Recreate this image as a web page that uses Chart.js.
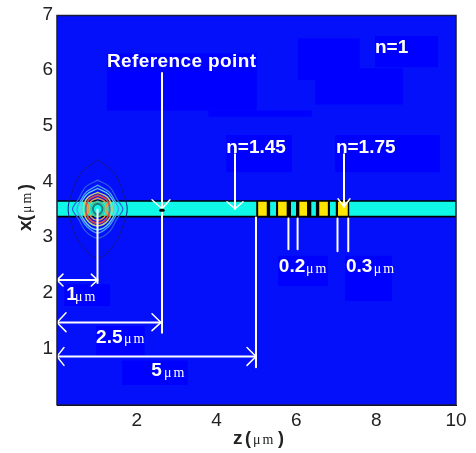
<!DOCTYPE html>
<html><head><meta charset="utf-8">
<style>html,body{margin:0;padding:0;background:#fff}canvas{display:block}</style>
<script src="https://cdn.jsdelivr.net/npm/chart.js@4"></script>
</head><body><canvas id="c" width="476" height="453"></canvas>
<script>
const zTicks = [2, 4, 6, 8, 10];
const xTicks = [1, 2, 3, 4, 5, 6, 7];
const plotBox = [0, 10, 0, 7];
// [z0, z1, x0, x1] rectangles in micrometres
const artefactPatches = [
  [1.25,5.01,5.29,6.32],[3.79,6.39,5.18,5.29],[6.04,7.59,5.84,6.59],[6.47,8.67,5.40,6.05],
  [7.97,9.55,6.07,6.63],[4.24,5.89,4.18,4.85],[6.97,9.60,4.18,4.85],[5.54,6.79,2.14,2.68],
  [7.22,8.40,1.87,2.68],[0.18,1.33,1.78,2.17],[0.98,2.20,0.89,1.42],[1.63,3.28,0.36,0.80]
];
const guideOuter = [0, 10, 3.37, 3.68];
const guideCore = [0, 10, 3.40, 3.652];
const gratingOuter = [4.99, 7.33, 3.37, 3.68];
const gratingHigh = [[5.04,5.26],[5.54,5.76],[6.07,6.27],[6.57,6.79],[7.04,7.29]];
const gratingLow = [[5.34,5.49],[5.86,5.99],[6.37,6.49],[6.84,6.99]];
const contourColors = ['#15158f','#2a5fe0','#45a0f0','#62d0ec','#c4d070','#d84848','#e09a40','#58c088','#1c7c80'];
const contourWidths = [1,1.2,1.3,1.4,1.5,1.8,1.5,1.5,2];
const contours = [
  [[1.02,4.41],[1.45,4.15],[1.70,3.72],[1.76,3.52],[1.70,3.32],[1.45,2.90],[1.02,2.64],[0.58,2.90],[0.33,3.32],[0.28,3.52],[0.33,3.72],[0.58,4.15],[1.02,4.41]],
  [[1.02,4.04],[1.32,3.92],[1.50,3.70],[1.65,3.52],[1.50,3.34],[1.32,3.12],[1.02,3.00],[0.72,3.12],[0.54,3.34],[0.39,3.52],[0.54,3.70],[0.72,3.92],[1.02,4.04]],
  [[1.02,3.95],[1.30,3.83],[1.44,3.68],[1.54,3.52],[1.44,3.36],[1.30,3.21],[1.02,3.09],[0.74,3.21],[0.60,3.36],[0.50,3.52],[0.60,3.68],[0.74,3.83],[1.02,3.95]],
  [[1.02,3.89],[1.30,3.78],[1.46,3.52],[1.30,3.26],[1.02,3.15],[0.74,3.26],[0.58,3.52],[0.74,3.78],[1.02,3.89]],
  [[1.02,3.82],[1.27,3.73],[1.38,3.52],[1.27,3.31],[1.02,3.22],[0.77,3.31],[0.66,3.52],[0.77,3.73],[1.02,3.82]],
  [[1.02,3.77],[1.23,3.70],[1.32,3.52],[1.23,3.34],[1.02,3.27],[0.81,3.34],[0.72,3.52],[0.81,3.70],[1.02,3.77]],
  [[1.02,3.72],[1.19,3.66],[1.26,3.52],[1.19,3.38],[1.02,3.32],[0.85,3.38],[0.78,3.52],[0.85,3.66],[1.02,3.72]],
  [[1.02,3.66],[1.14,3.62],[1.19,3.52],[1.14,3.42],[1.02,3.38],[0.90,3.42],[0.85,3.52],[0.90,3.62],[1.02,3.66]],
  [[1.02,3.62],[1.10,3.59],[1.14,3.52],[1.10,3.45],[1.02,3.42],[0.94,3.45],[0.90,3.52],[0.94,3.59],[1.02,3.62]]
];
// white annotation stems and dimension lines [z, x]
const whiteLines = [
  [[2.632,5.967],[2.632,1.30]],
  [[1.015,3.514],[1.015,2.191]],
  [[0,2.244],[1.015,2.244]],
  [[0,1.484],[2.606,1.484]],
  [[4.987,3.367],[4.987,0.677]],
  [[0,0.873],[4.987,0.873]],
  [[4.461,4.507],[4.461,3.527]],
  [[7.193,4.507],[7.193,3.562]],
  [[5.80,3.349],[5.80,2.797]],
  [[6.03,3.349],[6.03,2.797]],
  [[7.03,3.349],[7.03,2.761]],
  [[7.30,3.349],[7.30,2.761]]
];
const arrowHeads = [
  [[2.381,3.687],[2.632,3.527],[2.832,3.687]],
  [[0.15,2.351],[0,2.244],[0.15,2.138]],
  [[0.86,2.351],[1.015,2.244],[0.86,2.138]],
  [[0.226,1.657],[0,1.484],[0.226,1.318]],
  [[2.381,1.639],[2.606,1.484],[2.381,1.336]],
  [[0.175,1.033],[0,0.873],[0.175,0.712]],
  [[4.762,1.033],[4.987,0.873],[4.762,0.712]],
  [[4.261,3.652],[4.461,3.527],[4.662,3.652]],
  [[7.043,3.705],[7.193,3.562],[7.343,3.705]]
];
const refDot = [[2.60,3.50],[2.66,3.50]];
// labels: text, z, x
const boldLabels = [
  ['n=1',7.97,6.41],['n=1.45',4.24,4.63],['n=1.75',6.99,4.63],
  ['0.2',5.56,2.48],['0.3',7.24,2.48],['1',0.23,1.98],['2.5',0.98,1.21],['5',2.36,0.61]
];
const refLabel = ['Reference point',1.25,6.16];
const unitLabels = [
  ['\u03bcm',6.24,2.44],['\u03bcm',7.94,2.44],['\u03bcm',0.45,1.94],['\u03bcm',1.68,1.18],['\u03bcm',2.68,0.57]
];
const zTitle = ['z','(','\u03bcm',')'];
const xTitle = ['x','(','\u03bcm',')'];

const BG='#0410fa', PATCH='#0000ff', CYAN='#10f8e8', YEL='#ffe600', K='#000';
const ds=[];
function rect(r,color){
  ds.push({type:'line',data:[{x:r[0],y:r[3]},{x:r[1],y:r[3]}],borderWidth:0,pointRadius:0,
    backgroundColor:color,borderColor:color,fill:{value:r[2]}});
}
rect([plotBox[0],plotBox[1],plotBox[2],plotBox[3]],BG);
artefactPatches.forEach(r=>rect(r,PATCH));
rect(guideOuter,K);
rect(guideCore,CYAN);
rect(gratingOuter,K);
gratingHigh.forEach(g=>rect([g[0],g[1],3.402,3.652],YEL));
gratingLow.forEach(g=>rect([g[0],g[1],3.402,3.652],CYAN));
function poly(pts,color,w,tension){
  ds.push({type:'line',data:pts.map(p=>({x:p[0],y:p[1]})),borderColor:color,borderWidth:w,pointRadius:0,
    fill:false,tension:tension||0,borderCapStyle:'round',clip:false});
}
contours.forEach((c,i)=>poly(c,contourColors[i],contourWidths[i],0.35));
whiteLines.forEach(l=>poly(l,'#fff',2));
arrowHeads.forEach(l=>poly(l,'#fff',1.5));
poly(refDot,K,3);
poly([[0,0],[0,7],[10,7],[10,0],[0,0]],'#1a1a3a',1.5);
ds.forEach((d,i)=>{d.order=ds.length-i;});

const textPlugin={id:'txt',afterDatasetsDraw(ch){
  const c=ch.ctx,sx=ch.scales.x,sy=ch.scales.y,a=ch.chartArea;
  c.save();c.fillStyle='#fff';c.textBaseline='middle';c.textAlign='left';
  c.font='bold 19px "Liberation Sans"';
  boldLabels.forEach(l=>c.fillText(l[0],sx.getPixelForValue(l[1]),sy.getPixelForValue(l[2])));
  c.letterSpacing='0.4px';
  c.fillText(refLabel[0],sx.getPixelForValue(refLabel[1]),sy.getPixelForValue(refLabel[2]));
  c.font='14px "Liberation Serif"';c.letterSpacing='2px';
  unitLabels.forEach(l=>c.fillText(l[0],sx.getPixelForValue(l[1]),sy.getPixelForValue(l[2])));
  c.letterSpacing='0px';
  c.fillStyle='#222';
  const y=a.bottom+34;
  c.font='bold 19px "Liberation Sans"';c.fillText(zTitle[0],a.left+176,y);
  c.font='bold 18px "Liberation Sans"';c.fillText(zTitle[1],a.left+188,y);
  c.font='14px "Liberation Serif"';c.letterSpacing='2px';c.fillText(zTitle[2],a.left+196,y+1);
  c.letterSpacing='0px';
  c.font='bold 18px "Liberation Sans"';c.fillText(zTitle[3],a.left+221,y);
  c.translate(26,0);c.rotate(-Math.PI/2);
  c.font='bold 19px "Liberation Sans"';c.fillText(xTitle[0],-231,0);
  c.font='bold 18px "Liberation Sans"';c.fillText(xTitle[1],-221,0);
  c.font='14px "Liberation Serif"';c.letterSpacing='2px';c.fillText(xTitle[2],-213,1);
  c.letterSpacing='0px';
  c.font='bold 18px "Liberation Sans"';c.fillText(xTitle[3],-190,0);
  c.restore();
}};

new Chart(document.getElementById('c'),{
  type:'scatter',
  data:{datasets:ds},
  options:{
    responsive:false,animation:false,
    layout:{padding:{top:12,right:20,left:0,bottom:0}},
    plugins:{legend:{display:false},tooltip:{enabled:false}},
    scales:{
      x:{type:'linear',min:plotBox[0],max:plotBox[1],
        afterFit(s){s.height=48;},
        afterBuildTicks(s){s.ticks=zTicks.map(v=>({value:v}));},
        grid:{display:false,drawTicks:false},border:{color:'#000',width:1},
        ticks:{color:'#222',padding:4,maxRotation:0,autoSkip:false,font:{family:'"Liberation Sans"',size:19}}},
      y:{type:'linear',min:plotBox[2],max:plotBox[3],
        afterFit(s){s.width=57;},
        afterBuildTicks(s){s.ticks=xTicks.map(v=>({value:v}));},
        grid:{display:false,drawTicks:false},border:{color:'#000',width:1},
        ticks:{color:'#222',padding:4,autoSkip:false,labelOffset:-1,font:{family:'"Liberation Sans"',size:19}}}
    }
  },
  plugins:[textPlugin]
});
</script></body></html>
